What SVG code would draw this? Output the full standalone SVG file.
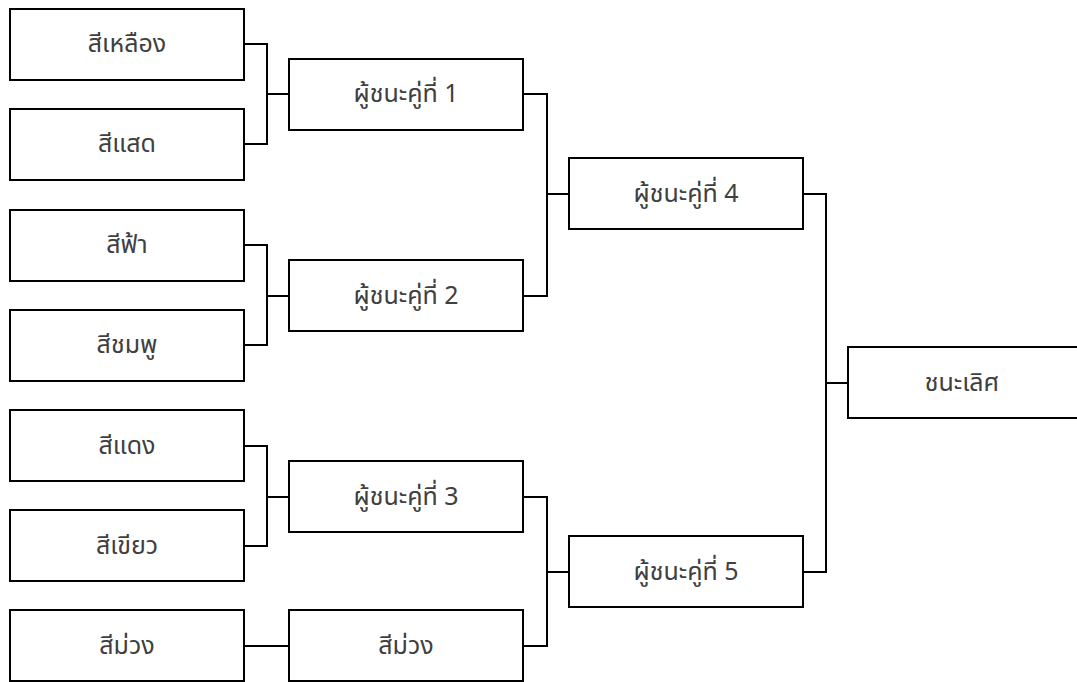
<svg xmlns="http://www.w3.org/2000/svg" width="1077" height="682" viewBox="0 0 1077 682">
<style>
.b{fill:#fff;stroke:#000;stroke-width:2}
.t{font-family:"Noto Sans Thai","Noto Sans","DejaVu Sans",sans-serif;font-size:25px;fill:#404040;text-anchor:middle;dominant-baseline:central}
.c{fill:none;stroke:#000;stroke-width:2}
</style>
<rect width="1077" height="682" fill="#fff"/>
<g id="connectors">
<path class="c" d="M244 44H267V144H244M267 94H289"/>
<path class="c" d="M244 245H267V345H244M267 296H289"/>
<path class="c" d="M244 446H267V546H244M267 497H289"/>
<path class="c" d="M244 646H289"/>
<path class="c" d="M523 94H547V296H523M547 194H569"/>
<path class="c" d="M523 497H547V646H523M547 572H569"/>
<path class="c" d="M803 194H826V572H803M826 383H848"/>
</g>
<g id="n1"><rect class="b" x="10" y="9" width="234" height="71"/><text class="t" x="127" y="44">สีเหลือง</text></g>
<g id="n2"><rect class="b" x="10" y="109" width="234" height="71"/><text class="t" x="127" y="144">สีแสด</text></g>
<g id="n3"><rect class="b" x="10" y="210" width="234" height="71"/><text class="t" x="127" y="245">สีฟ้า</text></g>
<g id="n4"><rect class="b" x="10" y="310" width="234" height="71"/><text class="t" x="127" y="345">สีชมพู</text></g>
<g id="n5"><rect class="b" x="10" y="410" width="234" height="71"/><text class="t" x="127" y="446">สีแดง</text></g>
<g id="n6"><rect class="b" x="10" y="510" width="234" height="71"/><text class="t" x="127" y="546">สีเขียว</text></g>
<g id="n7"><rect class="b" x="10" y="610" width="234" height="71"/><text class="t" x="127" y="646">สีม่วง</text></g>
<g id="w1"><rect class="b" x="289" y="59" width="234" height="71"/><text class="t" x="406" y="94">ผู้ชนะคู่ที่ 1</text></g>
<g id="w2"><rect class="b" x="289" y="260" width="234" height="71"/><text class="t" x="406" y="296">ผู้ชนะคู่ที่ 2</text></g>
<g id="w3"><rect class="b" x="289" y="461" width="234" height="71"/><text class="t" x="406" y="497">ผู้ชนะคู่ที่ 3</text></g>
<g id="w7"><rect class="b" x="289" y="610" width="234" height="71"/><text class="t" x="406" y="646">สีม่วง</text></g>
<g id="w4"><rect class="b" x="569" y="158" width="234" height="71"/><text class="t" x="686" y="194">ผู้ชนะคู่ที่ 4</text></g>
<g id="w5"><rect class="b" x="569" y="536" width="234" height="71"/><text class="t" x="686" y="572">ผู้ชนะคู่ที่ 5</text></g>
<g id="champ"><rect class="b" x="848" y="347" width="234" height="71"/><text class="t" x="962" y="383">ชนะเลิศ</text></g>
</svg>
